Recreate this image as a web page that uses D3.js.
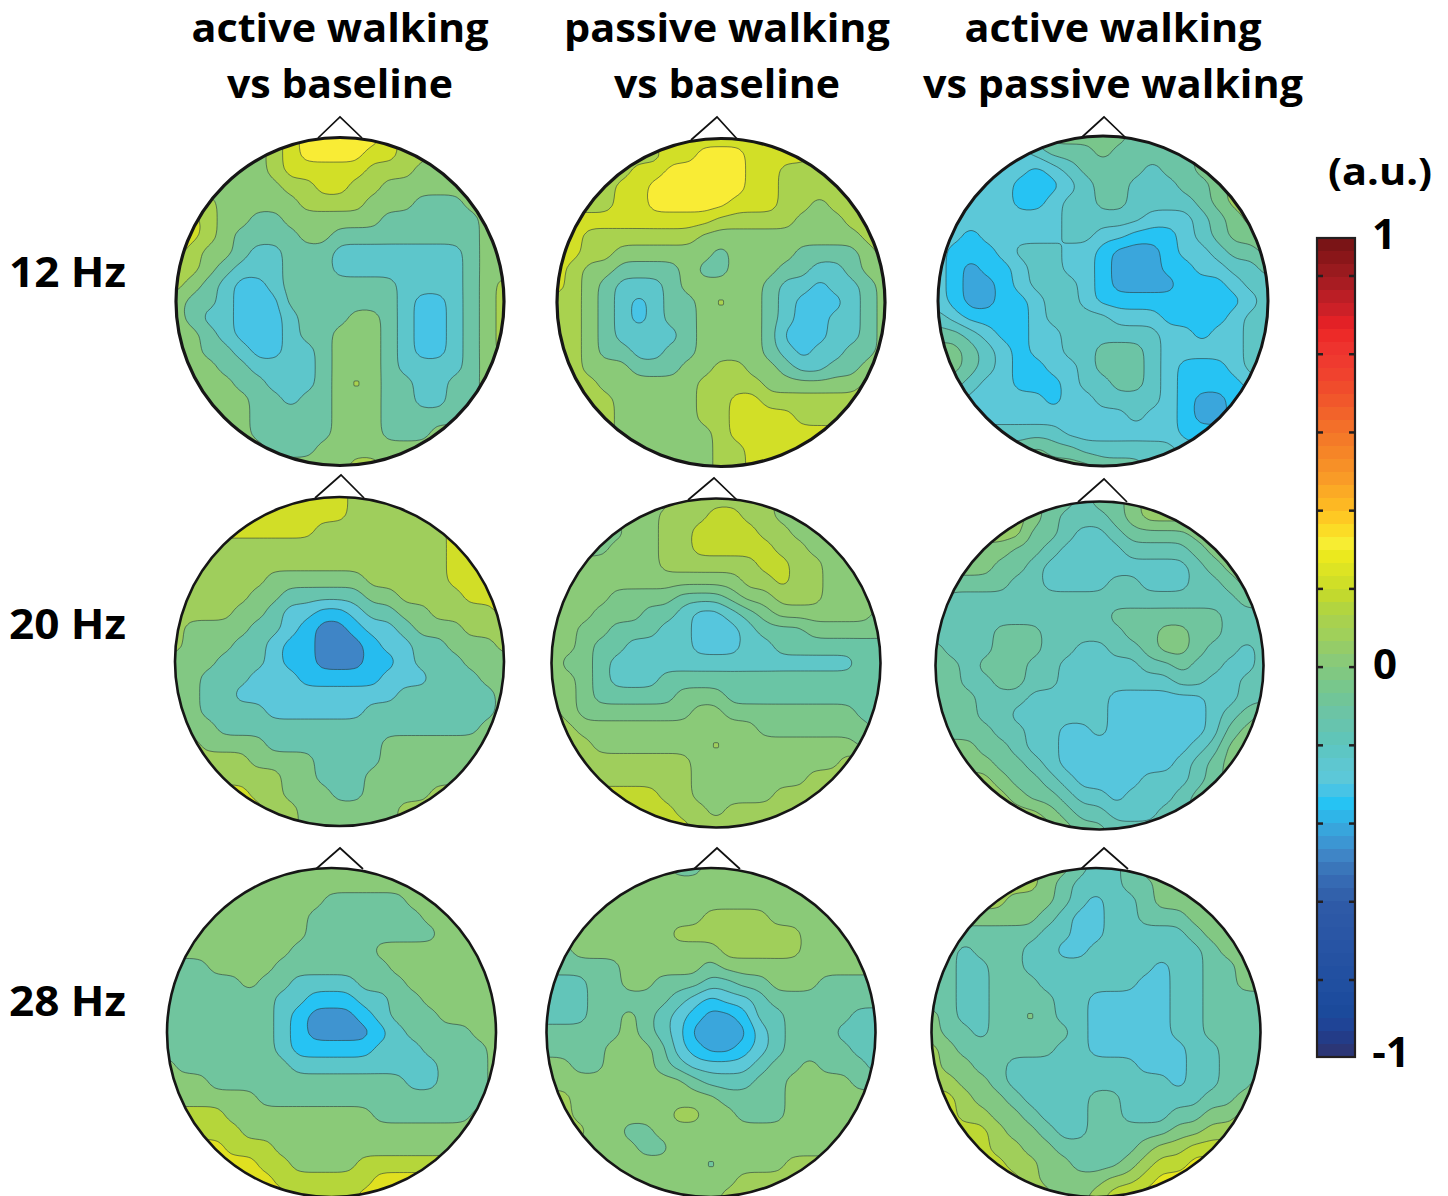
<!DOCTYPE html>
<html><head><meta charset="utf-8">
<script src="https://cdn.jsdelivr.net/npm/d3@7"></script>
<style>html,body{margin:0;background:#fff}svg{display:block}text{font-family:"Open Sans",sans-serif;font-weight:700;fill:#000}</style>
</head><body><svg id="c" width="1448" height="1196"></svg>
<script>
const active12=["333333456666654433333","333333456666554433333","333333455555444333333","333333344554433333333","444333334444333222333","554332233333322222233","554322223322222222233","543321122211111111233","443211122211111111233","432100122222221111234","322100022222221001234","321100012223321001234","332100012233321001234","332210011233321001234","333221111233321111233","333322111234322112233","333332212233322112233","333332222233322222333","333332222233322233333","333333222333333333333","333333333334433333333"];
const passive12=["444444555555555544444","444444455666555544444","444445566666554444444","444455666666554444444","444455666665554434444","555555555544444333444","554444444333333333344","554433333323333222234","543322223223332211233","543211123333321101123","443210122343321000123","443210122333321001123","443211112333320001123","443221122333321011223","443332223344332112234","444333333444433333344","444433333445544444444","444433333445555444444","444433333345555555555","333333333344555555555","333333333344555555555"];
const contrast12=["222223455555444455666","222222344454444455666","222222123444434455666","222221112344333445666","222221123344333345666","222222223333322234566","221222223322111234556","211123332210001223445","210112332210001122334","210012333210000111233","210011233211111111123","321111233332221111233","443211223333332212233","554321223344432222233","554321122344432111233","443221112334432111123","332222212233332100112","222222222222322100111","333333332222222111111","444444544333333222222","555555555544433333333"];
const active20=["666666666665555566666","666666666665555566666","666666666555555556666","555555555555555556666","555555555555555556666","555555444444555556666","555554433333445555666","555544322112334455556","544443321001223444555","544433211000122334445","444333211000112333444","443332221111122233344","443322222222223333334","443333222222333333334","444333333333333333344","554444333333344444444","555554444333344444444","555555544333444444555","666665544433444455555","666666554444445555555","555555554444445555555"];
const passive20=["444444445555554444444","444444455566554444444","333334455666655444444","333344455666665544444","444444455555566554444","444444444444556554444","444433332223445554444","444333221001234444443","443322211000122233333","443221111000112222222","433211111111111111122","443211122222222222222","443222223332222222222","543333333443333333322","554444444444433333332","555444444454444444433","555555555444444444555","555555555444444455555","666666655444445555555","666666665545555555555","666666666555555555555"];
const contrast20=["555555433233455555555","555555432223455555555","555555332112333344555","555443321111222234445","444433211111111123444","333332211112211122344","322222222222222222233","222222222223333333222","222233322222334433222","322233322112234432212","332333221111122322112","332233221111111221122","333222111110000001122","333221111110000001234","333322110010000001344","444332110000000012444","444433210000000123444","555543321000011123444","555554332110111234444","555555543221112233333","555555554332222333333"];
const active28=["444444444444444444444","444444444444444444444","444444444433333444444","444444444333333344444","444444444333333334444","444444443333344444444","333444433333334444444","333334332222333444444","333333322111223344444","333333321000123334444","333333321000012333344","333333321111122233334","433333332222222223334","444333333333333223334","444444333333333333334","555544444444433333344","555554444444444444444","666655544444444444555","666666554444555555555","666666655555566666666","666666665555666666666"];
const passive28=["555555554455555555555","555555555555555555555","555555555555555555555","555555555566665555555","555555556666666655555","445555555556666655555","444445555545555555555","333445544433445554444","333444443212234444444","333445432100133444433","444445432000023444333","444455542100123444433","554455543222234454443","555555555433344555544","665555555554444555555","665555556655444555555","666554455555555555555","555555445555555555555","555555555545555666666","555555555555666666666","555555555556666666666"];
const contrast28=["444444433211233333333","444444432111223333333","444443332101123333333","333333321001122233333","332222211001111123333","221222110011111112333","221122111111110112233","221122211111100112233","221122221100000112222","321122321100000112222","322122222100000112222","432222221100000011222","433221111111100011222","443321111111111011223","554332111122111112233","554433211122111223344","555543321122222334444","555544332222234455555","555554433222345566666","555555433334456666666","555555543345666666666"];

const columnTitles=[["active walking","vs baseline"],["passive walking","vs baseline"],["active walking","vs passive walking"]];
const rowLabels=["12 Hz","20 Hz","28 Hz"];
const barTickLabels=["1","0","-1"];
const unitLabel="(a.u.)";

// Colours
const warmToGreen=["#7a1416","#8a1619","#991a1e","#a81c22","#bb1e25","#cc2027","#e32126","#ed2a28","#ee332e","#ef3a2f","#f0422e","#f04c2c","#f1572b","#f2632a","#f36f29","#f47a28","#f68527","#f79027","#f99b27","#fbaa25","#fdb823","#fec923","#fbdc26","#f7ed32","#ebe91e","#dde423","#d0df27","#c2d92e","#b2d53f","#a8d14f"];
const greenToBlue=["#a0d05a","#95cc68","#8aca78","#80c882","#78c78c","#71c598","#6cc4a5","#67c4ae","#60c5b8","#5dc6c4","#5ec7d0","#5cc8d8","#47c4e6","#26c3f3","#2fb5e8","#38a5dc","#3c96d3","#3f85c6","#3a76ba","#366ab3","#3261ab","#2e5aa7","#2c58a6","#2a56a5","#2754a4","#2552a2","#2250a1","#204fa0","#1d4c9e","#1b4a9b","#1f4496","#233c88","#2b3676"];
const barColours=warmToGreen.concat(greenToBlue);

const panels=[
 {grid:active12,cx:340,cy:301.5,r:164,nose:[318,340,362],noseTop:117,noseBase:138,sw:3.2,bands:["#47c4e6","#5dc6cb","#6dc4a5","#8aca78","#a9d24f","#d2df27","#f9ec35"]},
 {grid:passive12,cx:721,cy:302.5,r:164,nose:[691,717,738],noseTop:117,noseBase:140,sw:3.2,bands:["#47c4e6","#5dc6cb","#6dc4a5","#8aca78","#a9d24f","#d2df27","#f9ec35"]},
 {grid:contrast12,cx:1103,cy:301,r:165,nose:[1081,1104,1126],noseTop:117,noseBase:138,sw:3,bands:["#3aa6dc","#26c3f3","#5cc8d8","#5fc5c5","#6cc4a5","#79c68b","#9fce5c"]},
 {grid:active20,cx:339.5,cy:661.5,r:164.5,nose:[315,341,364],noseTop:475,noseBase:498,sw:2.6,bands:["#3f85c6","#26bcef","#5cc7da","#68c4ae","#82c883","#9fce5c","#d1de27"]},
 {grid:passive20,cx:716,cy:663,r:164.5,nose:[688,714,737],noseTop:478,noseBase:500,sw:2.6,bands:["#56c6dd","#5fc7c8","#6ac5a5","#7bc78a","#8aca78","#9fce5c","#c2d92e"]},
 {grid:contrast20,cx:1099.5,cy:665.5,r:164,nose:[1078,1104,1127],noseTop:479,noseBase:502,sw:2.6,bands:["#56c6dd","#5fc6c8","#66c4b4","#70c59e","#82c883","#96cc68","#c2d92e"]},
 {grid:active28,cx:331.5,cy:1032.5,r:164.5,nose:[316,340,363],noseTop:848,noseBase:869,sw:2.6,bands:["#3f94d0","#26c3f3","#5cc6c9","#70c59e","#8aca78","#b5d63a","#e0e020"]},
 {grid:passive28,cx:711,cy:1032.5,r:164.5,nose:[694,717,740],noseTop:848,noseBase:869,sw:2.6,bands:["#3aa6dc","#26c3f3","#5cc8d8","#62c5b9","#70c59e","#8aca78","#a0cf5a"]},
 {grid:contrast28,cx:1096,cy:1032.5,r:164.5,nose:[1081,1104,1128],noseTop:848,noseBase:869,sw:2.6,bands:["#56c6dd","#60c5bf","#6cc5a7","#82c883","#a0cf5a","#bdd833","#e5e51e"]}
];

const svg=d3.select("#c");
const defs=svg.append("defs");
const N=21, PAD=1, FINE=4, SOFT=1.2, thresholds=d3.range(0.5,6.5,1);
const SIZE=(N+2*PAD)*FINE;
const contourGen=d3.contours().size([SIZE,SIZE]).thresholds(thresholds);

panels.forEach((p,pi)=>{
  const g=svg.append("g");
  // each sample becomes a FINE x FINE block (edge repeated), softened so iso-lines come out round
  const values=new Float64Array(SIZE*SIZE);
  for(let y=0;y<SIZE;y++){
    const j=Math.max(0,Math.min(N-1,Math.floor(y/FINE)-PAD));
    for(let x=0;x<SIZE;x++){
      const i=Math.max(0,Math.min(N-1,Math.floor(x/FINE)-PAD));
      values[y*SIZE+x]=+p.grid[j][i];
    }
  }
  d3.blur2({data:values,width:SIZE,height:SIZE},SOFT);
  const lo=(PAD+0.5)*FINE, hi=(PAD+N-0.5)*FINE;
  const xs=d3.scaleLinear().domain([lo,hi]).range([p.cx-p.r,p.cx+p.r]);
  const ys=d3.scaleLinear().domain([lo,hi]).range([p.cy-p.r,p.cy+p.r]);
  const ring=d3.line().x(d=>xs(d[0])).y(d=>ys(d[1])).curve(d3.curveBasisClosed);
  const toPath=c=>c.coordinates.map(poly=>poly.map(r=>ring(r.slice(0,-1))).join("")).join("");

  defs.append("clipPath").attr("id","clip"+pi).append("circle").attr("cx",p.cx).attr("cy",p.cy).attr("r",p.r);
  g.append("path").attr("fill","none").attr("stroke","#111").attr("stroke-width",1.7)
    .attr("d",d3.line()([[p.nose[0],p.noseBase],[p.nose[1],p.noseTop],[p.nose[2],p.noseBase]]));
  const inner=g.append("g").attr("clip-path",`url(#clip${pi})`);
  inner.append("circle").attr("cx",p.cx).attr("cy",p.cy).attr("r",p.r).attr("fill",p.bands[0]);
  inner.selectAll("path.band").data(contourGen(values)).join("path").attr("class","band")
    .attr("d",toPath).attr("fill-rule","evenodd")
    .attr("fill",(d,k)=>p.bands[k+1])
    .attr("stroke","#2a3a3a").attr("stroke-width",0.7).attr("stroke-opacity",0.85);
  g.append("circle").attr("cx",p.cx).attr("cy",p.cy).attr("r",p.r).attr("fill","none").attr("stroke","#161616").attr("stroke-width",p.sw);
});

// column titles
const titleX=[340,727,1113], titleY=[42,98], titleWidths=[[297,226],[326,226],[297,380]];
columnTitles.forEach((lines,c)=>lines.forEach((t,l)=>{
  svg.append("text").attr("x",titleX[c]).attr("y",titleY[l]).attr("text-anchor","middle")
    .attr("font-size",39).attr("textLength",titleWidths[c][l]).attr("lengthAdjust","spacingAndGlyphs").text(t);
}));
// row labels
const rowY=[287,639,1016];
rowLabels.forEach((t,i)=>svg.append("text").attr("x",9).attr("y",rowY[i]).attr("font-size",42)
  .attr("textLength",117).attr("lengthAdjust","spacingAndGlyphs").text(t));

// colour bar
const barX=1317, barW=38, barTop=238, barBottom=1057;
const barY=d3.scaleLinear().domain([0,barColours.length]).range([barTop,barBottom]);
const bar=svg.append("g");
bar.selectAll("rect").data(barColours).join("rect")
  .attr("x",barX).attr("width",barW)
  .attr("y",(d,i)=>barY(i)).attr("height",(d,i)=>barY(i+1)-barY(i)+0.4).attr("fill",d=>d);
bar.append("rect").attr("x",barX).attr("y",barTop).attr("width",barW).attr("height",barBottom-barTop)
  .attr("fill","none").attr("stroke","#231f20").attr("stroke-width",2.2);
const tickScale=d3.scaleLinear().domain([0,9]).range([276,980]);
d3.range(10).forEach(i=>{
  const y=tickScale(i);
  bar.append("line").attr("x1",barX).attr("x2",barX+6).attr("y1",y).attr("y2",y).attr("stroke","#231f20").attr("stroke-width",2.5);
  bar.append("line").attr("x1",barX+barW-6).attr("x2",barX+barW).attr("y1",y).attr("y2",y).attr("stroke","#231f20").attr("stroke-width",2.5);
});
svg.append("text").attr("x",1380).attr("y",185).attr("text-anchor","middle").attr("font-size",38)
  .attr("textLength",104).attr("lengthAdjust","spacingAndGlyphs").text(unitLabel);
const barLabelX=[1384,1385,1391], barLabelY=[249,679,1067];
barTickLabels.forEach((t,i)=>svg.append("text").attr("x",barLabelX[i]).attr("y",barLabelY[i])
  .attr("text-anchor","middle").attr("font-size",42).text(t));
</script></body></html>
